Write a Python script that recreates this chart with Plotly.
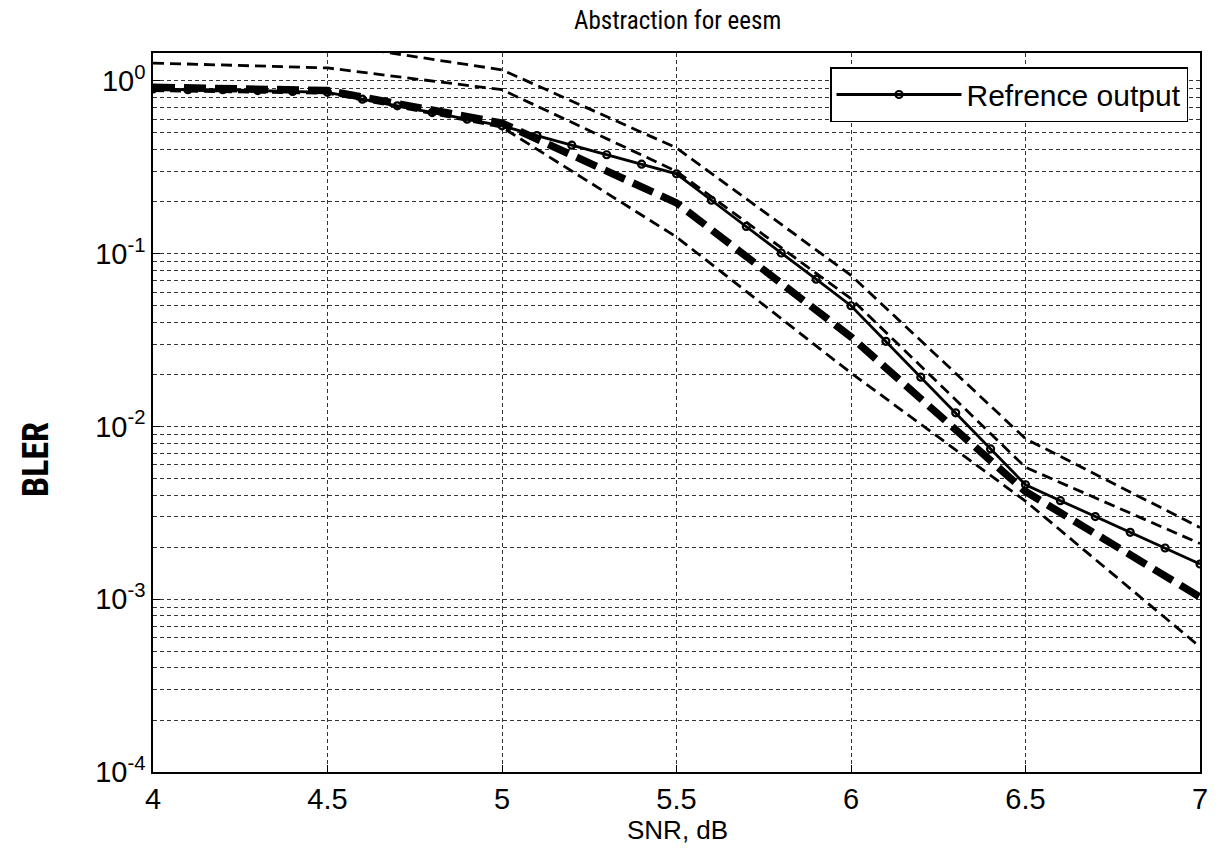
import plotly.graph_objects as go

# --- data ---
snr_coarse = [4.0, 4.5, 5.0, 5.5, 6.0, 6.5, 7.0]
curve_a = [1.9, 1.65, 1.16, 0.41, 0.075, 0.0085, 0.0026]
curve_b = [1.27, 1.19, 0.89, 0.30, 0.055, 0.0058, 0.0021]
curve_thick = [0.92, 0.88, 0.57, 0.197, 0.033, 0.0042, 0.00103]
curve_c = [0.88, 0.85, 0.54, 0.125, 0.0204, 0.0037, 0.00053]

snr_ref = [4.0, 4.1, 4.2, 4.3, 4.4, 4.5, 4.6, 4.7, 4.8, 4.9, 5.0,
           5.1, 5.2, 5.3, 5.4, 5.5, 5.6, 5.7, 5.8, 5.9, 6.0,
           6.1, 6.2, 6.3, 6.4, 6.5, 6.6, 6.7, 6.8, 6.9, 7.0]
ref_output = [0.90, 0.89, 0.89, 0.88, 0.87, 0.86, 0.785, 0.718, 0.656, 0.601, 0.55,
              0.483, 0.425, 0.374, 0.330, 0.29, 0.204, 0.144, 0.101, 0.0712, 0.05,
              0.0311, 0.0193, 0.0120, 0.00742, 0.0046, 0.00372, 0.00301, 0.00244, 0.00198, 0.0016]

x_ticks = [4, 4.5, 5, 5.5, 6, 6.5, 7]
x_tick_labels = ["4", "4.5", "5", "5.5", "6", "6.5", "7"]
y_ticks = [1e-4, 1e-3, 1e-2, 1e-1, 1e0]
y_tick_labels = ["10<sup>-4</sup>", "10<sup>-3</sup>", "10<sup>-2</sup>", "10<sup>-1</sup>", "10<sup>0</sup>"]

FONT = "Liberation Sans, Arial, Helvetica"
NARROW = "Liberation Sans Narrow, Roboto Condensed, DejaVu Sans Condensed, Liberation Sans"

# page body has an 8px margin; plot area must land at x 153..1200, y 53..772 on screen
OFF = 8
W, H = 1221, 851
L, R, T, B = 153 - OFF, W - 1200 + OFF, 53 - OFF, H - 772 + OFF
PW, PH = W - L - R, H - T - B

fig = go.Figure()

thin = dict(color="black", width=2.8, dash="11px,6px")
for ys in (curve_a, curve_b, curve_c):
    fig.add_trace(go.Scatter(x=snr_coarse, y=ys, mode="lines", line=thin,
                             showlegend=False, hoverinfo="skip"))
fig.add_trace(go.Scatter(x=snr_coarse, y=curve_thick, mode="lines",
                         line=dict(color="black", width=7.5, dash="22px,9px"),
                         showlegend=False))
fig.add_trace(go.Scatter(x=snr_ref, y=ref_output, mode="lines+markers",
                         name="Refrence output",
                         line=dict(color="black", width=2.8),
                         marker=dict(symbol="circle-open", size=7, color="black",
                                     line=dict(width=2.2, color="black"))))

grid = dict(showgrid=True, gridcolor="#333333", gridwidth=1, griddash="4px,3px")
fig.update_layout(
    width=W, height=H,
    margin=dict(l=L, r=R, t=T, b=B, autoexpand=False),
    paper_bgcolor="white", plot_bgcolor="white",
    font=dict(family=FONT, color="black"),
    legend=dict(x=(1188 - 153) / PW, y=(772 - 67) / PH, xanchor="right", yanchor="top",
                bordercolor="black", borderwidth=1.5, bgcolor="white",
                font=dict(family=FONT, size=30, color="black"),
                itemwidth=125, tracegroupgap=0),
    xaxis=dict(range=[4, 7], tickvals=x_ticks, ticktext=x_tick_labels,
               ticks="inside", ticklen=7, tickcolor="black", automargin=False,
               showline=True, linecolor="black", linewidth=1.5, mirror=True,
               tickfont=dict(size=29, family=FONT),
               zeroline=False, **grid),
    yaxis=dict(type="log", range=[-4, 0.162], tickvals=y_ticks, ticktext=y_tick_labels,
               ticks="inside", ticklen=7, tickcolor="black", automargin=False,
               showline=True, linecolor="black", linewidth=1.5, mirror=True,
               tickfont=dict(size=29, family=FONT),
               minor=dict(dtick="D1", showgrid=True, gridcolor="#333333", gridwidth=1,
                          griddash="4px,3px"),
               zeroline=False, **grid),
    annotations=[
        dict(text="Abstraction for eesm", xref="paper", yref="paper", x=(677 - 153) / PW,
             y=(772 - 20) / PH, xanchor="center", yanchor="middle", showarrow=False,
             font=dict(size=25, family=NARROW, color="black")),
        dict(text="SNR, dB", xref="paper", yref="paper", x=(677 - 153) / PW,
             y=-(830 - 772) / PH, xanchor="center", yanchor="middle", showarrow=False,
             font=dict(size=26, family=FONT, color="black")),
        dict(text="<b>BLER</b>", xref="paper", yref="paper", x=-(153 - 36) / PW,
             y=(772 - 460) / PH, xanchor="center", yanchor="middle", textangle=-90,
             showarrow=False, font=dict(size=36, family=NARROW, color="black")),
    ],
)

fig.write_html("out.html")
